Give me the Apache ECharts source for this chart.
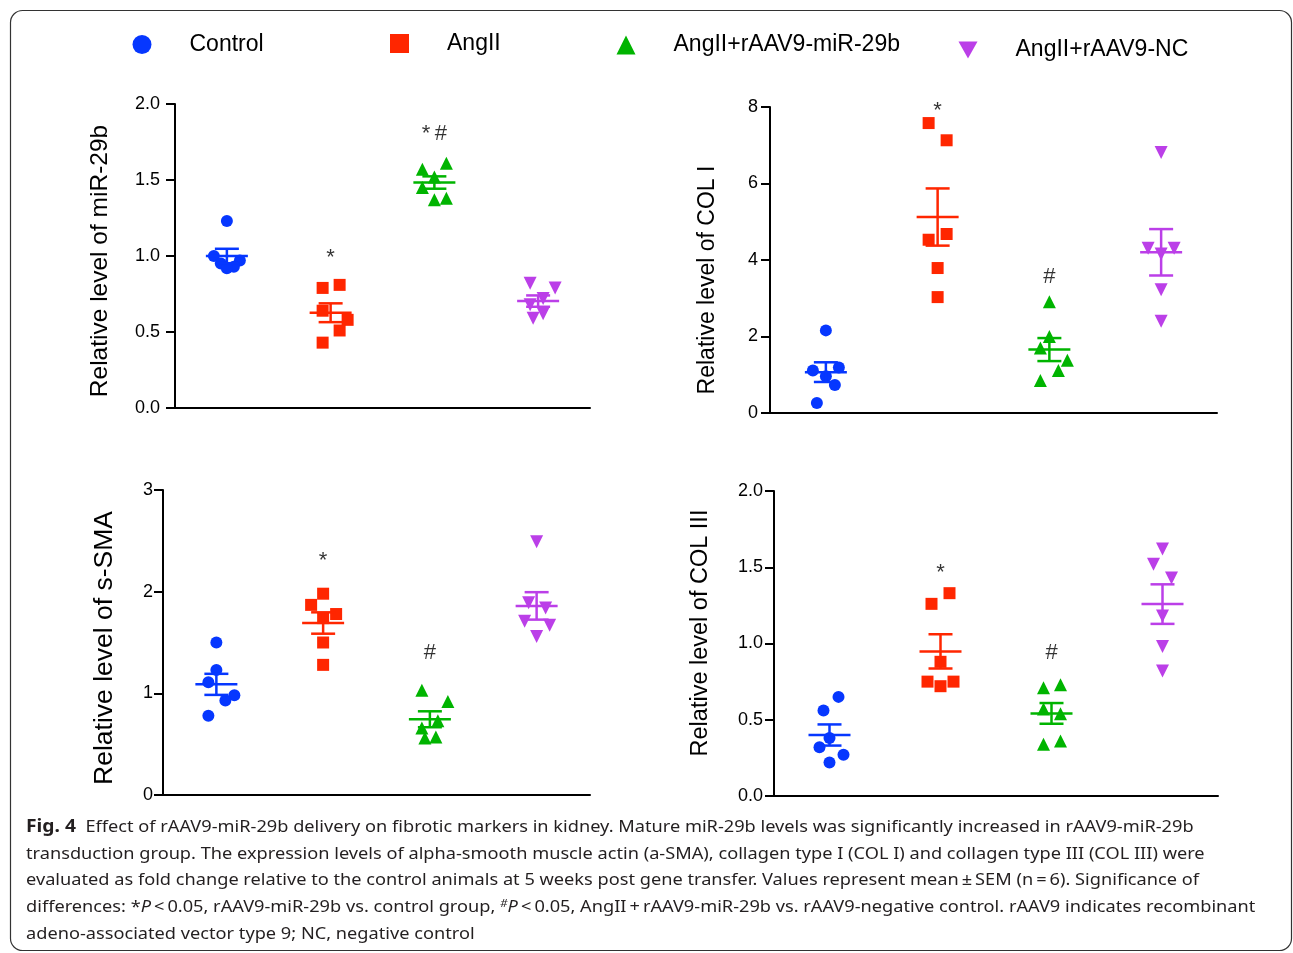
<!DOCTYPE html>
<html><head><meta charset="utf-8">
<script src="https://cdn.jsdelivr.net/npm/echarts@6/dist/echarts.min.js"></script>
<style>html,body{margin:0;padding:0;background:#fff}#chart{width:1293px;height:953px}</style>
</head><body><div id="chart"></div>
<script>
// ---------- data ----------
const groups = ['Control', 'AngII', 'AngII+rAAV9-miR-29b', 'AngII+rAAV9-NC'];

const mir29bValues = [
  [1.23, 1.00, 0.97, 0.95, 0.93, 0.92],
  [0.81, 0.79, 0.64, 0.58, 0.51, 0.43],
  [1.61, 1.57, 1.52, 1.45, 1.38, 1.37],
  [0.82, 0.79, 0.72, 0.68, 0.62, 0.59]
];
const col1Values = [
  [2.16, 1.19, 1.11, 0.96, 0.73, 0.26],
  [7.58, 7.13, 4.68, 4.53, 3.79, 3.03],
  [2.91, 2.00, 1.70, 1.38, 1.11, 0.85],
  [6.81, 4.31, 4.31, 4.16, 3.22, 2.40]
];
const smaValues = [
  [1.50, 1.23, 1.11, 0.98, 0.93, 0.78],
  [1.98, 1.87, 1.78, 1.74, 1.50, 1.28],
  [1.03, 0.92, 0.73, 0.66, 0.57, 0.56],
  [2.49, 1.89, 1.84, 1.71, 1.67, 1.56]
];
const col3Values = [
  [0.65, 0.56, 0.38, 0.32, 0.27, 0.22],
  [1.33, 1.26, 0.88, 0.75, 0.75, 0.72],
  [0.73, 0.71, 0.57, 0.54, 0.36, 0.34],
  [1.62, 1.52, 1.43, 1.18, 0.98, 0.82]
];

const mir29bTicks = [0, 0.5, 1.0, 1.5, 2.0];
const col1Ticks = [0, 2, 4, 6, 8];
const smaTicks = [0, 1, 2, 3];
const col3Ticks = [0, 0.5, 1.0, 1.5, 2.0];

const mir29bSigText = ['', '*', '*\u2009#', ''];
const mir29bSigY = [null, 0.99, 1.80, null];
const col1SigText = ['', '*', '#', ''];
const col1SigY = [null, 7.90, 3.57, null];
const smaSigText = ['', '*', '#', ''];
const smaSigY = [null, 2.30, 1.40, null];
const col3SigText = ['', '*', '#', ''];
const col3SigY = [null, 1.46, 0.94, null];

// horizontal scatter (jitter) of dots, in pixels
const mir29bJitter = [[0,-13,13,-6,7,0],[9,-8,-8,17,9,-8],[12,-12,0,-12,12,0],[-8,17,5,-8,5,-5]];
const col1Jitter = [[0,13,-13,0,9,-9],[-9,9,9,-9,0,0],[0,0,-9,18,9,-9],[0,-13,13,0,0,0]];
const smaJitter = [[0,0,-8,18,9,-8],[0,-12,13,0,0,0],[-8,18,8,-8,6,-5],[0,-8,9,-12,13,0]];
const col3Jitter = [[9,-6,0,-10,14,0],[9,-9,0,-13,13,0],[9,-8,-8,9,9,-8],[0,-9,9,0,0,0]];

// ---------- styling / layout ----------
const colors = ['#0637ff', '#ff2600', '#00b400', '#bb3fe8'];
const symbols = ['circle', 'rect', 'triangle', 'triangle'];
const rotations = [0, 0, 0, 180];
const downTri = 'path://M0,0 L10,0 L5,9 Z';

const panels = [
  {title: 'Relative level of miR-29b', values: mir29bValues, jitter: mir29bJitter, ticks: mir29bTicks, dec: 1,
   sigText: mir29bSigText, sigY: mir29bSigY, lblMargin: 15,
   grid: {left: 175, top: 104, width: 415, height: 304}, tpos: [100, 261], tsize: 24.5},
  {title: 'Relative level of COL I', values: col1Values, jitter: col1Jitter, ticks: col1Ticks, dec: 0,
   sigText: col1SigText, sigY: col1SigY, lblMargin: 12,
   grid: {left: 770, top: 107, width: 447, height: 306}, tpos: [708, 280], tsize: 23},
  {title: 'Relative level of s-SMA', values: smaValues, jitter: smaJitter, ticks: smaTicks, dec: 0,
   sigText: smaSigText, sigY: smaSigY, lblMargin: 10,
   grid: {left: 163, top: 490, width: 427, height: 305}, tpos: [105, 648], tsize: 26.5},
  {title: 'Relative level of COL III', values: col3Values, jitter: col3Jitter, ticks: col3Ticks, dec: 1,
   sigText: col3SigText, sigY: col3SigY, lblMargin: 11,
   grid: {left: 774, top: 491, width: 444, height: 305}, tpos: [701, 633], tsize: 23.5}
];

const mean = a => a.reduce((s, v) => s + v, 0) / a.length;
const sem = a => { const m = mean(a); const sd = Math.sqrt(a.reduce((s, v) => s + (v - m) * (v - m), 0) / (a.length - 1)); return sd / Math.sqrt(a.length); };

const FONT = '"Liberation Sans", Arial, sans-serif';

const option = {
  animation: false,
  backgroundColor: '#fff',
  grid: panels.map(p => Object.assign({containLabel: false}, p.grid)),
  xAxis: panels.map((p, i) => ({
    type: 'category', gridIndex: i, data: groups, boundaryGap: true,
    axisLine: {lineStyle: {color: '#000', width: 2}},
    axisTick: {show: false}, axisLabel: {show: false}, splitLine: {show: false}
  })),
  yAxis: panels.map((p, i) => ({
    type: 'value', gridIndex: i, min: p.ticks[0], max: p.ticks[p.ticks.length - 1],
    interval: p.ticks[1] - p.ticks[0],
    axisLine: {show: true, lineStyle: {color: '#000', width: 2}},
    axisTick: {show: true, inside: false, length: 9, lineStyle: {color: '#000', width: 2}},
    axisLabel: {fontSize: 18, color: '#000', margin: p.lblMargin, fontFamily: FONT,
      formatter: v => v.toFixed(p.dec)},
    splitLine: {show: false}
  })),
  legend: groups.map((g, i) => ({
    data: [{name: g, icon: i === 3 ? downTri : symbols[i]}],
    left: [127.5, 385, 611.5, 953.5][i], top: [28, 27, 28.5, 33.5][i],
    itemWidth: 19, itemHeight: 19, selectedMode: false,
    textStyle: {fontSize: 23, fontFamily: FONT, color: '#000', padding: [8, 0, 0, 33]}
  })),
  series: [],
  graphic: []
};

panels.forEach((p, i) => {
  groups.forEach((g, gi) => {
    option.series.push({
      name: g, type: 'scatter', xAxisIndex: i, yAxisIndex: i,
      symbol: symbols[gi], symbolRotate: rotations[gi], symbolSize: gi >= 2 ? 13 : 12,
      itemStyle: {color: colors[gi], opacity: 1}, z: 2,
      data: p.values[gi].map((v, k) => ({value: [gi, v], symbolOffset: [p.jitter[gi][k], 0]}))
    });
  });
  option.series.push({
    name: 'SEM', type: 'custom', xAxisIndex: i, yAxisIndex: i, z: 3,
    data: groups.map((g, gi) => [gi, mean(p.values[gi]), sem(p.values[gi]), gi]),
    renderItem: (params, api) => {
      const x = api.value(0), m = api.value(1), s = api.value(2);
      const c = api.coord([x, m]), t = api.coord([x, m + s]), b = api.coord([x, m - s]);
      const st = {stroke: colors[api.value(3)], lineWidth: 2.5};
      return {type: 'group', children: [
        {type: 'line', shape: {x1: c[0] - 21, y1: c[1], x2: c[0] + 21, y2: c[1]}, style: st},
        {type: 'line', shape: {x1: c[0], y1: t[1], x2: c[0], y2: b[1]}, style: st},
        {type: 'line', shape: {x1: c[0] - 12, y1: t[1], x2: c[0] + 12, y2: t[1]}, style: st},
        {type: 'line', shape: {x1: c[0] - 12, y1: b[1], x2: c[0] + 12, y2: b[1]}, style: st}
      ]};
    }
  });
  option.series.push({
    name: 'sig', type: 'scatter', xAxisIndex: i, yAxisIndex: i, symbolSize: 1,
    itemStyle: {color: 'rgba(0,0,0,0)'}, z: 4, silent: true,
    data: p.sigText.map((t, gi) => t ? {name: t, value: [gi, p.sigY[gi]]} : null).filter(d => d),
    label: {show: true, position: 'inside', formatter: q => q.name, fontSize: 22, color: '#000', fontFamily: FONT}
  });
  option.graphic.push({
    type: 'text', x: p.tpos[0], y: p.tpos[1], rotation: Math.PI / 2,
    style: {text: p.title, fontSize: p.tsize, fontFamily: FONT, fill: '#000', align: 'center', verticalAlign: 'middle'}
  });
});

// frame
option.graphic.push({type: 'rect', shape: {x: 10.5, y: 10.5, width: 1281, height: 940, r: 12},
  style: {fill: 'none', stroke: '#333', lineWidth: 1.2}, silent: true});

// caption
const CAP_FONT = '"Noto Sans", "Open Sans", sans-serif';
const CAP_SIZE = 17;
const captionLines = [
  '{b|Fig. 4}  Effect of rAAV9-miR-29b delivery on fibrotic markers in kidney. Mature miR-29b levels was significantly increased in rAAV9-miR-29b',
  'transduction group. The expression levels of alpha-smooth muscle actin (a-SMA), collagen type I (COL I) and collagen type III (COL III) were',
  'evaluated as fold change relative to the control animals at 5 weeks post gene transfer. Values represent mean\u2009\u00b1\u2009SEM (n\u2009=\u20096). Significance of',
  'differences: *{i|P}\u2009<\u20090.05, rAAV9-miR-29b vs. control group, {sup|#}{i|P}\u2009<\u20090.05, AngII\u2009+\u2009rAAV9-miR-29b vs. rAAV9-negative control. rAAV9 indicates recombinant',
  'adeno-associated vector type 9; NC, negative control'
];
const ctx = document.createElement('canvas').getContext('2d');
ctx.font = CAP_SIZE + 'px ' + CAP_FONT;
const capScale = 1173 / ctx.measureText(captionLines[2]).width;
captionLines.forEach((line, k) => {
  option.graphic.push({
    type: 'text', x: 26, y: 827 + k * 26.8, scaleX: capScale, silent: true,
    style: {
      text: line, fontSize: CAP_SIZE, fontFamily: CAP_FONT, fill: '#231f20', align: 'left', verticalAlign: 'middle',
      rich: {
        b: {fontSize: CAP_SIZE + 1, fontFamily: CAP_FONT, fontWeight: 'bold', fill: '#231f20'},
        i: {fontSize: CAP_SIZE, fontFamily: CAP_FONT, fontStyle: 'italic', fill: '#231f20'},
        sup: {fontSize: 11, fontFamily: CAP_FONT, fontStyle: 'italic', fill: '#231f20', verticalAlign: 'top', padding: [0, 0, 8, 0]}
      }
    }
  });
});

const chart = echarts.init(document.getElementById('chart'), null, {renderer: 'canvas'});
chart.setOption(option);
</script></body></html>
